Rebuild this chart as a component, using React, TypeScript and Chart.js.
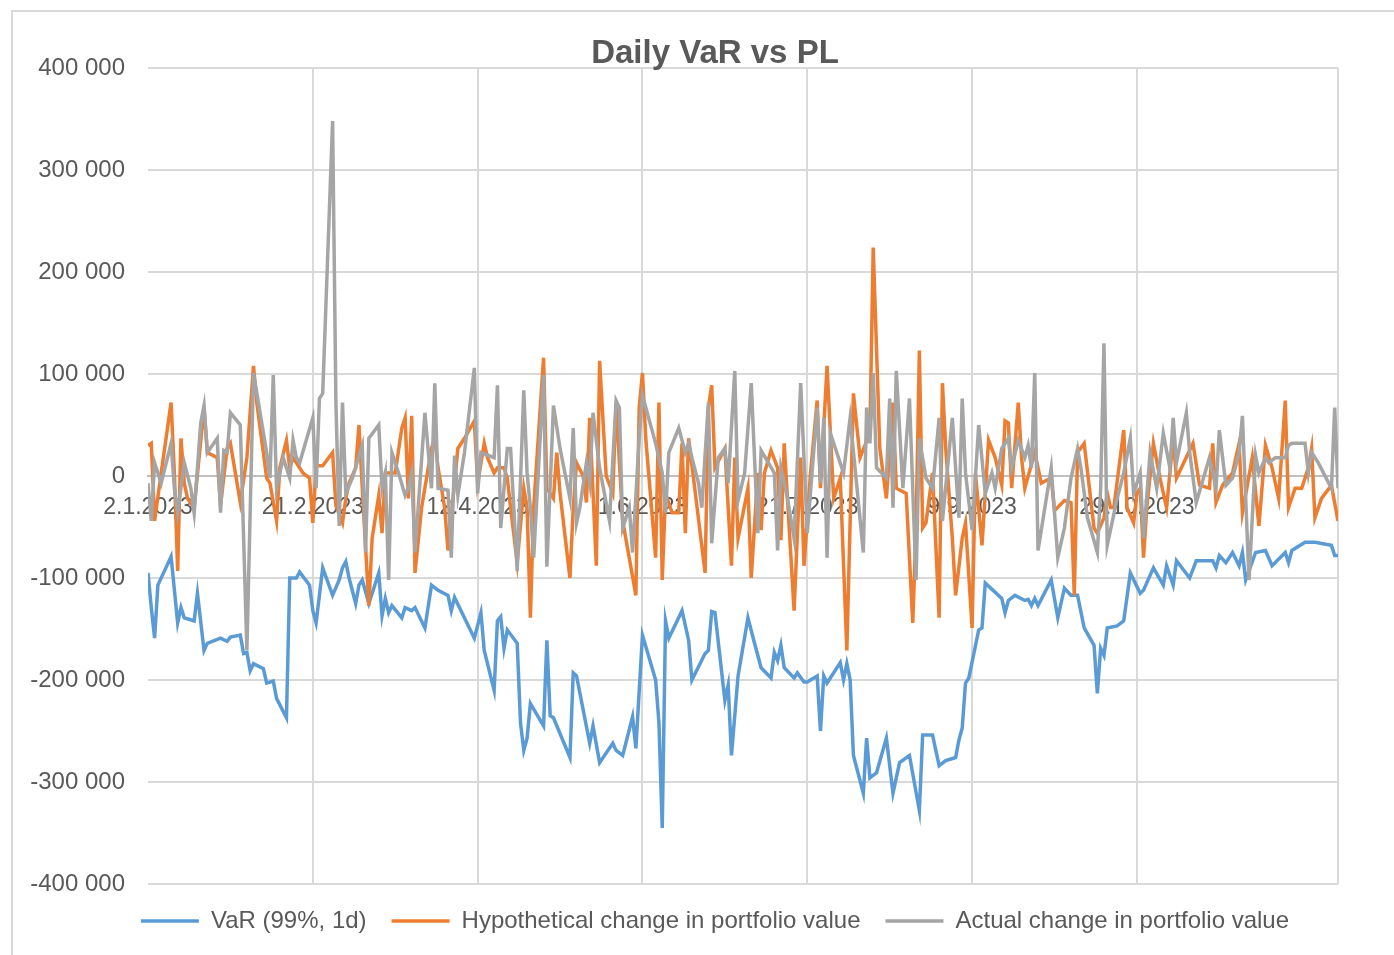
import React, { useEffect, useRef } from "react";
import { Chart, registerables } from "chart.js";

Chart.register(...registerables);

const TITLE = "Daily VaR vs PL";
const SERIES_NAMES = [
  "VaR (99%, 1d)",
  "Hypothetical change in portfolio value",
  "Actual change in portfolio value",
];
const SERIES_COLORS = ["#5b9bd5", "#ed7d31", "#a5a5a5"];

// x axis: days since 2.1.2023
const LAST_DAY = 361;
const X_TICK_STEP = 50;
const X_TICK_LABELS = [
  "2.1.2023",
  "21.2.2023",
  "12.4.2023",
  "1.6.2023",
  "21.7.2023",
  "9.9.2023",
  "29.10.2023",
  "18.12.2023",
];
const Y_MIN = -400000;
const Y_MAX = 400000;
const Y_STEP = 100000;

// values in thousands
const varDays = [
  0, 1, 2, 3, 7, 9, 10, 11, 14, 15, 17, 18, 22, 24, 25, 28, 29, 30, 31, 32, 35, 36, 38, 39, 42, 43, 45, 46, 49, 50,
  51, 53, 56, 58, 59, 60, 61, 63, 64, 65, 67, 70, 71, 72, 73, 74, 77, 78, 80, 81, 84, 86, 88, 91, 92, 93, 99, 101,
  102, 105, 106, 107, 108, 109, 112, 113, 114, 115, 116, 120, 121, 122, 123, 128, 129, 130, 134, 135, 137, 141, 142,
  144, 147, 148, 150, 154, 155, 156, 157, 158, 162, 164, 165, 169, 170, 171, 172, 175, 176, 177, 179, 182, 184, 186,
  189, 190, 191, 192, 193, 196, 197, 199, 200, 203, 204, 205, 206, 210, 211, 212, 213, 214, 217, 218, 219, 221, 224,
  226, 228, 231, 234, 235, 238, 240, 242, 245, 246, 247, 248, 249, 252, 253, 254, 259, 260, 261, 263, 266, 267, 268,
  269, 270, 274, 276, 278, 280, 282, 284, 287, 288, 289, 290, 291, 294, 296, 298, 301, 302, 305, 308, 309, 311, 312,
  316, 318, 323, 324, 325, 327, 329, 331, 332, 333, 336, 339, 341, 345, 346, 347, 351, 354, 359, 360, 361,
];
const varValues = [
  -95, -129, -159, -107, -79, -144, -129, -139, -142, -115, -171, -164, -159, -162, -158, -156, -174, -173, -191, -184,
  -189, -203, -201, -218, -237, -100, -100, -94, -107, -132, -144, -90, -117, -102, -90, -84, -100, -125, -107, -102,
  -125, -95, -137, -120, -134, -127, -139, -129, -132, -129, -149, -107, -112, -117, -132, -119, -159, -134, -171,
  -210, -142, -138, -169, -151, -164, -242, -269, -257, -223, -245, -161, -235, -237, -276, -193, -196, -262, -245,
  -281, -262, -269, -274, -236, -267, -156, -200, -242, -345, -142, -159, -132, -161, -200, -174, -171, -133, -134,
  -220, -205, -274, -196, -139, -164, -188, -198, -173, -181, -166, -188, -198, -193, -202, -202, -196, -250, -196,
  -203, -183, -200, -184, -200, -274, -311, -257, -296, -291, -257, -311, -281, -274, -328, -254, -254, -284, -279,
  -276, -259, -247, -203, -198, -151, -149, -105, -120, -134, -122, -117, -122, -121, -127, -120, -127, -102, -139,
  -110, -117, -117, -149, -166, -213, -169, -176, -149, -147, -142, -95, -115, -112, -90, -107, -88, -107, -83, -100,
  -83, -83, -90, -78, -85, -75, -88, -75, -102, -75, -73, -88, -75, -85, -73, -65, -65, -68, -78, -78,
];

const hypoDays = [
  0, 1, 2, 4, 7, 8, 9, 10, 11, 12, 14, 17, 18, 21, 22, 24, 25, 28, 30, 32, 33, 36, 37, 39, 40, 42, 43, 44, 47, 49, 50,
  51, 53, 56, 57, 59, 60, 61, 63, 64, 65, 67, 68, 70, 71, 72, 75, 77, 78, 79, 80, 81, 83, 86, 87, 88, 90, 91, 94, 96,
  99, 100, 102, 103, 105, 106, 108, 109, 110, 112, 114, 115, 116, 117, 119, 120, 121, 123, 124, 125, 128, 129, 130,
  132, 133, 134, 136, 137, 139, 141, 142, 144, 148, 149, 150, 151, 154, 155, 156, 157, 159, 161, 162, 163, 164, 169,
  170, 171, 172, 175, 177, 178, 179, 182, 183, 185, 186, 187, 189, 191, 192, 193, 196, 198, 199, 201, 203, 204, 206,
  208, 210, 212, 214, 216, 219, 220, 222, 224, 226, 227, 230, 232, 233, 234, 235, 236, 238, 240, 241, 242, 244, 245,
  247, 248, 250, 251, 253, 255, 257, 259, 260, 261, 262, 264, 265, 266, 269, 271, 274, 275, 278, 280, 281, 282, 284,
  287, 288, 290, 291, 292, 293, 296, 297, 299, 300, 301, 302, 303, 305, 307, 309, 311, 312, 317, 319, 322, 323, 324,
  326, 329, 331, 332, 335, 337, 339, 341, 343, 345, 346, 348, 350, 352, 353, 354, 356, 359, 361,
];
const hypoValues = [
  30, 32, -44, 3, 72, 3, -93, 37, -7, -22, -31, 67, 23, 18, -29, 27, 32, -26, 18, 108, 72, -2, -7, -44, 8, 35, 8, 18,
  3, -2, -46, 10, 10, 23, -29, -46, -22, -7, 8, 50, -12, -127, -61, -19, -56, 3, 3, 47, 57, -22, 59, -95, -31, 27, 37,
  8, -31, -73, 27, 37, 54, -7, 32, 18, 3, 8, 8, -2, -31, -85, -12, -31, -139, -31, 67, 116, -12, -22, 23, -17, -100,
  -31, 13, 0, -26, 57, -88, 113, 0, -17, 72, -44, -117, 67, 101, 37, -80, 72, -102, -17, -36, -36, 32, -56, 37, -95,
  67, 89, 8, 27, -88, 18, -61, -12, -100, 3, -53, 3, 25, 8, -63, 32, -132, 18, -88, 3, 74, -12, 108, -22, -2, -171,
  81, 18, 42, 224, 27, -22, 72, -12, -17, -144, -51, 123, -51, -46, 3, -139, 91, 27, -61, -117, -61, -46, -149, 3,
  -68, 35, 18, -9, 54, 52, -12, 72, 18, -12, 23, -7, -2, -34, -24, -26, -117, 23, 32, -51, -56, -41, -17, -31, -31,
  45, -31, -46, -17, -12, -80, -31, 32, -2, -31, 37, -2, 32, -9, -12, 32, -26, -9, 3, 32, -36, 18, -49, 30, 8, -22,
  74, -31, -12, -12, 8, 27, -41, -22, -9, -44,
];

const actDays = [
  0, 1, 2, 4, 7, 8, 9, 11, 13, 14, 16, 17, 18, 21, 22, 23, 24, 25, 28, 30, 32, 36, 37, 38, 39, 41, 43, 44, 45, 46, 50,
  51, 52, 53, 56, 57, 58, 59, 60, 62, 65, 66, 67, 70, 71, 72, 73, 74, 76, 78, 79, 80, 81, 84, 86, 87, 88, 91, 92, 93,
  94, 96, 99, 100, 101, 105, 106, 107, 109, 110, 112, 114, 115, 116, 117, 120, 121, 123, 125, 128, 129, 130, 131, 133,
  134, 135, 137, 140, 142, 143, 144, 146, 147, 149, 150, 154, 156, 157, 158, 161, 163, 164, 165, 167, 168, 170, 171,
  173, 175, 176, 178, 179, 181, 183, 185, 186, 190, 191, 192, 194, 196, 198, 200, 203, 204, 205, 206, 207, 211, 213,
  217, 218, 219, 220, 221, 224, 225, 226, 227, 229, 231, 233, 234, 236, 238, 240, 241, 243, 244, 246, 247, 248, 250,
  252, 254, 256, 257, 259, 261, 262, 264, 266, 267, 268, 269, 270, 274, 276, 278, 280, 282, 283, 285, 288, 289, 290,
  291, 294, 296, 298, 299, 301, 302, 304, 306, 308, 310, 311, 312, 315, 316, 318, 322, 324, 325, 327, 329, 331, 332,
  334, 336, 337, 339, 340, 342, 345, 346, 347, 351, 352, 353, 355, 359, 360, 361,
];
const actValues = [
  -7, -44, 13, -7, 32, -12, -36, 13, -12, -36, 52, 69, 23, 37, -36, 25, 23, 62, 50, -171, 101, 23, -2, 99, -12, 18, -2,
  35, 18, 13, 57, -12, 76, 81, 348, 72, -49, 72, -17, -2, 30, -75, 37, 50, -12, 3, -102, 23, 3, -19, -12, 3, -75, 62,
  -12, 91, -12, -14, -80, 20, -19, 23, 106, -17, 23, 18, 89, -51, 27, 27, -93, 84, 3, -31, -80, 99, -89, 69, 27, -22,
  47, -46, -31, 13, -7, 62, 8, -44, 74, 67, -51, -31, -75, 37, 79, 32, 3, -36, 23, 47, 23, 32, 18, -7, -31, 72, -66,
  18, 27, -7, 103, -24, 3, 91, -56, 25, 3, -73, 8, -22, -61, 91, -56, 67, -7, 57, -80, 42, 3, 57, -75, 67, 32, 101, 8,
  -2, 76, -31, 103, -12, 76, -102, 37, -2, -12, 57, -44, 23, 57, -41, 76, 3, -53, 50, -17, 3, -12, 27, 37, 8, 35, 18,
  30, 8, 101, -73, 8, -80, -51, -2, 27, 8, -41, -75, -12, 130, -68, -22, 3, 37, -17, 3, -61, 23, -12, 42, 8, 57, 13,
  62, 23, -26, 18, -12, 45, -9, -2, 23, 59, -102, 20, 3, 18, 13, 18, 18, 30, 32, 32, 3, 23, 13, -12, 67, -12,
];

const FONT = "'Liberation Sans', Arial, sans-serif";
const TEXT_COLOR = "#595959";
const GRID_COLOR = "#d9d9d9";

const toPoints = (days: number[], vals: number[]) =>
  days.map((d, i) => ({ x: d, y: vals[i] * 1000 }));

const formatThousands = (v: number) => {
  const s = Math.round(Math.abs(v))
    .toString()
    .replace(/\B(?=(\d{3})+(?!\d))/g, " ");
  return (v < 0 ? "-" : "") + s;
};

export default function App() {
  const ref = useRef<HTMLCanvasElement>(null);

  useEffect(() => {
    if (!ref.current) return;
    const series = [
      toPoints(varDays, varValues),
      toPoints(hypoDays, hypoValues),
      toPoints(actDays, actValues),
    ];
    const chart = new Chart(ref.current, {
      type: "line",
      data: {
        datasets: series.map((data, i) => ({
          label: SERIES_NAMES[i],
          data,
          borderColor: SERIES_COLORS[i],
          backgroundColor: SERIES_COLORS[i],
          borderWidth: 3.5,
          pointRadius: 0,
          tension: 0,
          fill: false,
          order: 3 - i,
          yAxisID: "y",
        })),
      },
      options: {
        animation: false,
        responsive: false,
        devicePixelRatio: 1,
        parsing: false as any,
        layout: { padding: { left: 30, right: 0, top: 0, bottom: 12 } },
        plugins: {
          title: {
            display: true,
            text: TITLE,
            color: TEXT_COLOR,
            font: { family: FONT, size: 33, weight: "bold", lineHeight: 0.8 },
            padding: { top: 41, bottom: 0.6 },
          },
          legend: {
            position: "bottom",
            labels: {
              color: TEXT_COLOR,
              font: { family: FONT, size: 24 },
              usePointStyle: true,
              pointStyle: "line",
              pointStyleWidth: 58,
              padding: 25,
              sort: (a: any, b: any) => a.datasetIndex - b.datasetIndex,
            },
          },
          tooltip: { enabled: false },
        },
        scales: {
          x: {
            type: "linear",
            axis: "x",
            min: 0,
            max: LAST_DAY,
            position: { y: 0 } as any,
            grid: {
              color: (ctx: any) =>
                ctx.tick && ctx.tick.value === 0 ? "rgba(0,0,0,0)" : GRID_COLOR,
              lineWidth: 2,
              drawTicks: false,
            },
            border: { display: true, color: "#bfbfbf", width: 2 },
            ticks: {
              stepSize: X_TICK_STEP,
              autoSkip: false,
              maxRotation: 0,
              padding: 18,
              color: TEXT_COLOR,
              font: { family: FONT, size: 23 },
              callback: (v: any) => {
                const n = Number(v);
                if (n % X_TICK_STEP !== 0) return "";
                return X_TICK_LABELS[n / X_TICK_STEP] ?? "";
              },
            },
          },
          y: {
            type: "linear",
            position: "left",
            min: Y_MIN,
            max: Y_MAX,
            grid: { color: GRID_COLOR, lineWidth: 2, drawTicks: false },
            border: { display: false },
            ticks: {
              stepSize: Y_STEP,
              padding: 23,
              color: TEXT_COLOR,
              font: { family: FONT, size: 24 },
              callback: (v: any) => formatThousands(Number(v)),
            },
            afterFit: (scale: any) => {
              scale.width = 118;
            },
          },
          ySpacer: {
            type: "linear",
            position: "right",
            display: true,
            grid: { display: false, drawTicks: false },
            border: { display: false },
            ticks: { display: false },
            afterFit: (scale: any) => {
              scale.width = 62;
            },
          },
        },
      },
    } as any);
    return () => chart.destroy();
  }, []);

  return (
    <div
      style={{
        position: "absolute",
        left: 0,
        top: 0,
        width: 1394,
        height: 955,
        background: "#ffffff",
        overflow: "hidden",
      }}
    >
      <div
        style={{
          position: "absolute",
          left: 11,
          top: 10,
          width: 1400,
          height: 960,
          borderTop: "2px solid #d9d9d9",
          borderLeft: "2px solid #d9d9d9",
        }}
      />
      <canvas
        ref={ref}
        width={1400}
        height={955}
        style={{ position: "absolute", left: 0, top: 0 }}
      />
    </div>
  );
}
